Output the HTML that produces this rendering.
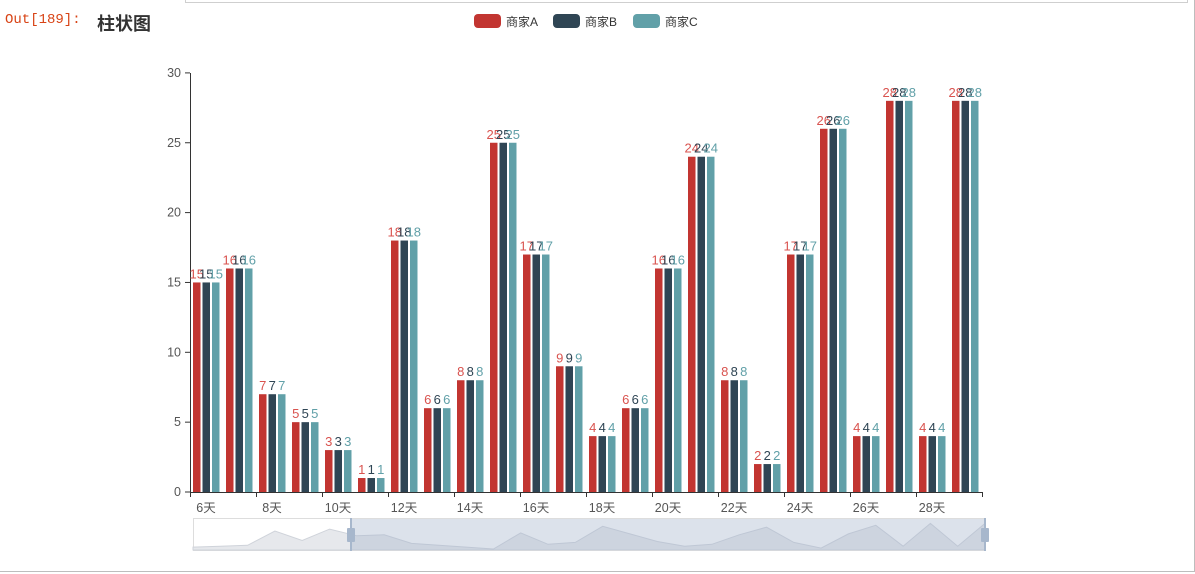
<!DOCTYPE html>
<html><head><meta charset="utf-8"><style>
body{margin:0;background:#fff;width:1195px;height:574px;overflow:hidden}
svg{display:block}
text{font-family:"Liberation Sans","Noto Sans CJK SC",sans-serif}
</style></head><body>
<svg id="s" width="1195" height="574" xmlns="http://www.w3.org/2000/svg">
<rect x="185.5" y="-5" width="1002" height="7.5" fill="#fff" stroke="#cfcfcf"/>
<line x1="0" y1="571.5" x2="1195" y2="571.5" stroke="#bdbdbd"/>
<line x1="1194.5" y1="0" x2="1194.5" y2="572" stroke="#bdbdbd"/>
<text x="5" y="23" font-size="14" fill="#d84315" style="font-family:'Liberation Mono',monospace">Out[189]:</text>
<text x="97" y="30" font-size="18" font-weight="bold" fill="#333">柱状图</text>
<rect x="474" y="14" width="27" height="14" rx="4" fill="#c23531"/><text x="506" y="26" font-size="12" fill="#333">商家A</text>
<rect x="553" y="14" width="27" height="14" rx="4" fill="#2f4554"/><text x="585" y="26" font-size="12" fill="#333">商家B</text>
<rect x="633" y="14" width="27" height="14" rx="4" fill="#61a0a8"/><text x="665" y="26" font-size="12" fill="#333">商家C</text>
<g id="g"></g>
</svg>
<script>
var d=[15,16,7,5,3,1,18,6,8,25,17,9,4,6,16,24,8,2,17,26,4,28,4,28];
var g=document.getElementById('g'),h='';
var c=['#c23531','#2f4554','#61a0a8'],lc=['#d9534f','#2f4554','#61a0a8'];
function Y(v){return 492-v*13.97;}
for(var i=0;i<=6;i++){var y=Y(i*5);h+='<line x1="185" y1="'+y+'" x2="190" y2="'+y+'" stroke="#333"/><text x="181" y="'+(y+4)+'" font-size="12.5" fill="#555" text-anchor="end">'+(i*5)+'</text>';}
h+='<line x1="190.5" y1="73" x2="190.5" y2="492" stroke="#333"/><line x1="190" y1="492.5" x2="982" y2="492.5" stroke="#333"/>';
for(var i=0;i<=12;i++){var x=190.5+i*66;h+='<line x1="'+x+'" y1="492" x2="'+x+'" y2="497" stroke="#333"/>';}
for(var i=0;i<24;i++){var x0=190+i*33;
 if(i%2==0)h+='<text x="'+(x0+16)+'" y="512" font-size="12.5" fill="#555" text-anchor="middle">'+(i+6)+'天</text>';
 for(var k=0;k<3;k++){var bx=x0+3+k*9.5,y=Y(d[i]);h+='<rect x="'+bx+'" y="'+y+'" width="7.5" height="'+(492-y)+'" fill="'+c[k]+'"/>';
 h+='<text x="'+(bx+3.75)+'" y="'+(y-4)+'" font-size="13" fill="'+lc[k]+'" text-anchor="middle">'+d[i]+'</text>';}}
var full=[3,4,5,20,10,22].concat(d);
var pts=[];for(var i=0;i<30;i++)pts.push((193+i*792/29).toFixed(1)+','+(550-full[i]*0.95).toFixed(1));
h+='<rect x="193.5" y="518.5" width="792" height="32" fill="#fff" stroke="#ddd"/>';
h+='<polygon points="193,550 '+pts.join(' ')+' 985,550" fill="#e6e8ec" stroke="#cfd3da"/>';
h+='<rect x="351" y="519" width="634" height="31" fill="#a7b7cc" fill-opacity="0.4"/>';
h+='<line x1="351" y1="518" x2="351" y2="551" stroke="#a7b7cc" stroke-width="2"/><line x1="985" y1="518" x2="985" y2="551" stroke="#a7b7cc" stroke-width="2"/>';
h+='<rect x="347" y="528" width="8" height="14" rx="1" fill="#a7b7cc"/><rect x="981" y="528" width="8" height="14" rx="1" fill="#a7b7cc"/>';
g.innerHTML=h;
</script>
</body></html>
